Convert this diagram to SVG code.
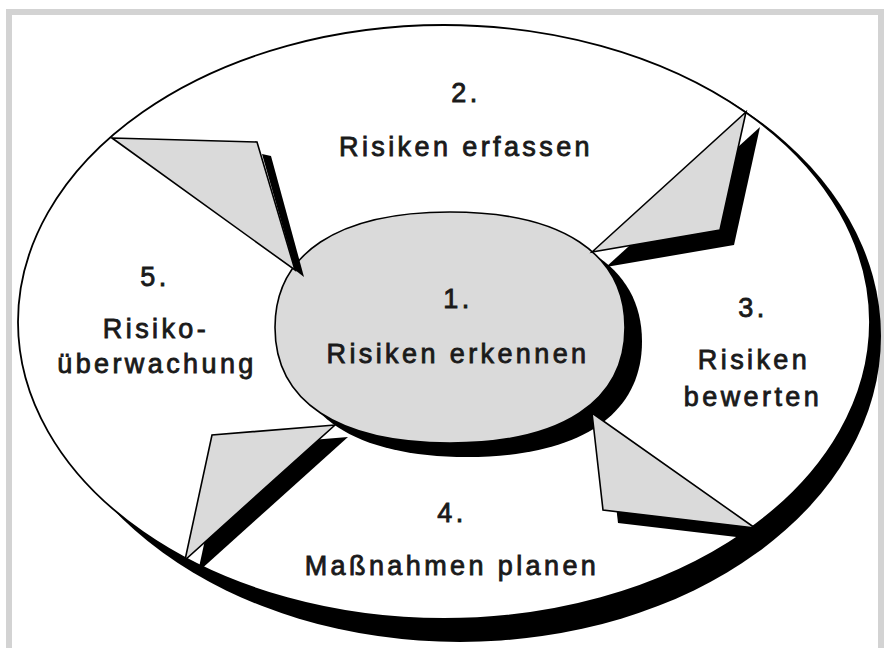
<svg xmlns="http://www.w3.org/2000/svg" width="887" height="648" viewBox="0 0 887 648">
  <style>
    .lbl { font-family: "Liberation Sans", Arial, Helvetica, sans-serif; font-size: 27px; letter-spacing: 3.4px; fill: #1a1a1a; stroke: #1a1a1a; stroke-width: 0.85; text-anchor: middle; }
    .shadow { fill: #000; stroke: none; }
    .arrow { fill: #dadada; stroke: #000; stroke-width: 1.6; stroke-linejoin: miter; }
  </style>
  <rect x="0" y="0" width="887" height="648" fill="#ffffff"/>
  <g id="frame">
    <rect x="9" y="12" width="872" height="660" fill="none" stroke="#d3d3d3" stroke-width="6"/>
  </g>

  <g id="cycle-ring">
    <ellipse cx="460" cy="336" rx="421" ry="306" fill="#000"/>
    <ellipse cx="444" cy="322" rx="426" ry="297" fill="#fff" stroke="#000" stroke-width="1.8"/>
  </g>

  <g id="node-1">
    <path transform="translate(17,14)" class="shadow" d="M625,327.5 C625,401.4 562,443 450,443 C338,443 275,401.4 275,327.5 C275,253.6 338,212 450,212 C562,212 625,253.6 625,327.5 Z"/>
    <path fill="#dadada" stroke="#000" stroke-width="1.6" d="M625,327.5 C625,401.4 562,443 450,443 C338,443 275,401.4 275,327.5 C275,253.6 338,212 450,212 C562,212 625,253.6 625,327.5 Z"/>
    <text class="lbl" x="458" y="308">1.</text>
    <text class="lbl" x="458" y="363">Risiken erkennen</text>
  </g>

  <g id="connectors">
    <g id="arrow-5-1">
      <polygon class="shadow" points="262,154 271,156 304,277 295,270"/>
      <polygon class="arrow" points="112,138 257,142 295,270"/>
    </g>
    <g id="arrow-1-3">
      <polygon class="shadow" points="606,267 760,127 734,245"/>
      <polygon class="arrow" points="592,252 746,112 720,230"/>
    </g>
    <g id="arrow-3-1">
      <polygon class="shadow" points="607,426 618,523 770,541"/>
      <polygon class="arrow" points="592,413 603,510 755,528"/>
    </g>
    <g id="arrow-1-5">
      <polygon class="shadow" points="348,437 225,447 198,572"/>
      <polygon class="arrow" points="335,425 212,435 185,560"/>
    </g>
  </g>

  <g id="node-2">
    <text class="lbl" x="466" y="102">2.</text>
    <text class="lbl" x="466" y="156">Risiken erfassen</text>
  </g>
  <g id="node-3">
    <text class="lbl" x="753" y="317">3.</text>
    <text class="lbl" x="754" y="369">Risiken</text>
    <text class="lbl" x="753" y="406">bewerten</text>
  </g>
  <g id="node-4">
    <text class="lbl" x="452" y="522">4.</text>
    <text class="lbl" x="452" y="575">Maßnahmen planen</text>
  </g>
  <g id="node-5">
    <text class="lbl" x="155" y="286">5.</text>
    <text class="lbl" x="156" y="338">Risiko-</text>
    <text class="lbl" x="157" y="373">überwachung</text>
  </g>
</svg>
